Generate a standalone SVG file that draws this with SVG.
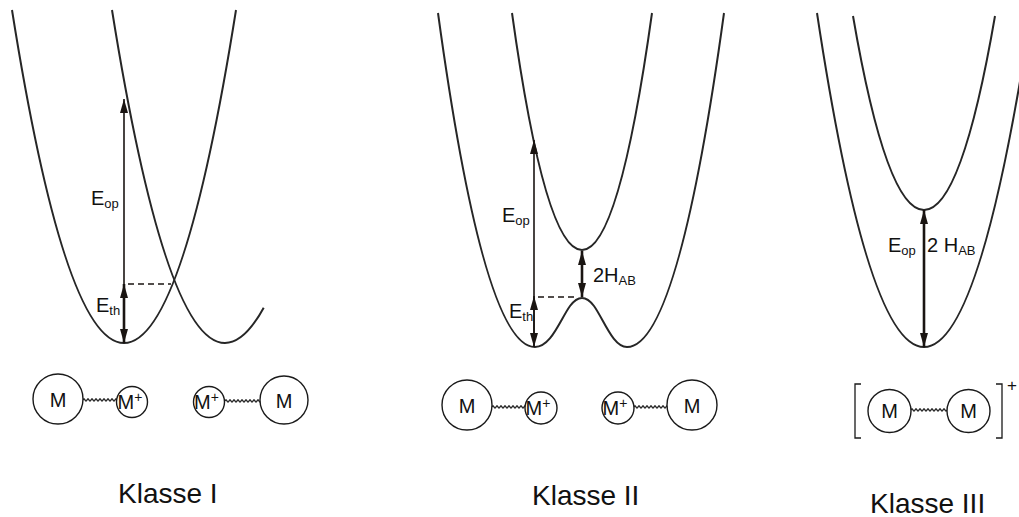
<svg xmlns="http://www.w3.org/2000/svg" width="1019" height="517" viewBox="0 0 1019 517">
<style>
.curve{fill:none;stroke:#262626;stroke-width:2}
.arr{fill:none;stroke:#1a1512;stroke-width:1.6}
.arrb{fill:none;stroke:#1a1512;stroke-width:2.6}
.dash{fill:none;stroke:#1a1512;stroke-width:1.6;stroke-dasharray:6 4}
.circ{fill:#fff;stroke:#1a1a1a;stroke-width:1.4}
.wave{fill:none;stroke:#1a1a1a;stroke-width:1.3}
.br{fill:none;stroke:#1a1a1a;stroke-width:1.3}
text{font-family:"Liberation Sans",Arial,sans-serif;fill:#111}
.lbl{font-size:20px}
.sub{font-size:13px}
.mol{font-size:20px}
.sup{font-size:14px}
.cls{font-size:28px}
</style>
<defs>
<marker id="ah" markerUnits="userSpaceOnUse" markerWidth="15" markerHeight="9" refX="14" refY="4" orient="auto-start-reverse" viewBox="0 0 15 9">
<path d="M0,0 L14,4 L0,8 z" fill="#1a1512"/>
</marker>
</defs>

<g id="panel-1-curves">
<path class="curve" d="M12,10 C42,199 79,343 124,343 C169,343 206,199 236,10"/>
<path class="curve" d="M112,10 C142.3,199.1 179.6,343 225,343 C238.6,343 251.5,330 263.7,307.7"/>
</g>
<g id="panel-2-curves">
<path class="curve" d="M438,13 C464,202.7 496,347 535,347 C551,347 560,320 570,306 Q582,290 594,306 C604,320 613,347 627,347 C666,347 698,202.7 724,13"/>
<path class="curve" d="M512,13 C530.8,147.6 553.9,250 582,250 C610.1,250 633.2,147.6 652,13"/>
</g>
<g id="panel-3-curves">
<path class="curve" d="M817,13 C845.7,202.7 881,347 924,347 C967,347 1002.3,202.7 1031,13"/>
<path class="curve" d="M853,16 C872,126.2 895.5,210 924,210 C952.5,210 976,126.2 995,16"/>
</g>

<g id="connectors">
<line class="arr" x1="124" y1="343" x2="124" y2="99" marker-end="url(#ah)"/>
<line class="arrb" x1="124" y1="284" x2="124" y2="343" marker-start="url(#ah)" marker-end="url(#ah)"/>
<line class="dash" x1="128" y1="284" x2="171" y2="284"/>
<line class="arr" x1="534" y1="347" x2="534" y2="140" marker-end="url(#ah)"/>
<line class="arr" x1="534" y1="296" x2="534" y2="347" marker-start="url(#ah)" marker-end="url(#ah)"/>
<line class="dash" x1="538" y1="297" x2="578" y2="297"/>
<line class="arrb" x1="582" y1="251" x2="582" y2="297" marker-start="url(#ah)" marker-end="url(#ah)"/>
<line class="arrb" x1="924" y1="210" x2="924" y2="347" marker-start="url(#ah)" marker-end="url(#ah)"/>
</g>

<g id="panel-1-labels">
<text class="lbl" x="91" y="205">E<tspan class="sub" dy="3">op</tspan></text>
<text class="lbl" x="96" y="312">E<tspan class="sub" dy="3">th</tspan></text>
</g>
<g id="panel-2-labels">
<text class="lbl" x="502" y="222">E<tspan class="sub" dy="3">op</tspan></text>
<text class="lbl" x="509" y="318">E<tspan class="sub" dy="3">th</tspan></text>
<text class="lbl" x="593" y="282">2H<tspan class="sub" dy="3">AB</tspan></text>
</g>
<g id="panel-3-labels">
<text class="lbl" x="888" y="252">E<tspan class="sub" dy="3">op</tspan></text>
<text class="lbl" x="927" y="252">2 H<tspan class="sub" dy="3">AB</tspan></text>
</g>

<g id="mol-1a">
<path class="wave" d="M83,400 q1,-2.2 2,0 q1,2.2 2,0 q1,-2.2 2,0 q1,2.2 2,0 q1,-2.2 2,0 q1,2.2 2,0 q1,-2.2 2,0 q1,2.2 2,0 q1,-2.2 2,0 q1,2.2 2,0 q1,-2.2 2,0 q1,2.2 2,0 q1,-2.2 2,0 q1,2.2 2,0 q1,-2.2 2,0 q1,2.2 2,0 q1,-2.2 2,0"/>
<circle class="circ" cx="58" cy="399" r="25"/>
<text class="mol" x="58" y="407" text-anchor="middle">M</text>
<circle class="circ" cx="132" cy="402" r="15.5"/>
<text class="mol" x="117.5" y="409">M<tspan class="sup" dy="-7">+</tspan></text>
</g>
<g id="mol-1b">
<path class="wave" d="M225,401 q1,-2.2 2,0 q1,2.2 2,0 q1,-2.2 2,0 q1,2.2 2,0 q1,-2.2 2,0 q1,2.2 2,0 q1,-2.2 2,0 q1,2.2 2,0 q1,-2.2 2,0 q1,2.2 2,0 q1,-2.2 2,0 q1,2.2 2,0 q1,-2.2 2,0 q1,2.2 2,0 q1,-2.2 2,0 q1,2.2 2,0 q1,-2.2 2,0 q1,2.2 2,0"/>
<circle class="circ" cx="209" cy="402" r="15.5"/>
<text class="mol" x="194" y="409">M<tspan class="sup" dy="-7">+</tspan></text>
<circle class="circ" cx="284" cy="400" r="24"/>
<text class="mol" x="284" y="408" text-anchor="middle">M</text>
</g>

<g id="mol-2a">
<path class="wave" d="M492,407 q1,-2.2 2,0 q1,2.2 2,0 q1,-2.2 2,0 q1,2.2 2,0 q1,-2.2 2,0 q1,2.2 2,0 q1,-2.2 2,0 q1,2.2 2,0 q1,-2.2 2,0 q1,2.2 2,0 q1,-2.2 2,0 q1,2.2 2,0 q1,-2.2 2,0 q1,2.2 2,0 q1,-2.2 2,0 q1,2.2 2,0 q1,-2.2 2,0"/>
<circle class="circ" cx="467" cy="405" r="25"/>
<text class="mol" x="467" y="413" text-anchor="middle">M</text>
<circle class="circ" cx="541" cy="408" r="16"/>
<text class="mol" x="525.5" y="415">M<tspan class="sup" dy="-7">+</tspan></text>
</g>
<g id="mol-2b">
<path class="wave" d="M634,407 q1,-2.2 2,0 q1,2.2 2,0 q1,-2.2 2,0 q1,2.2 2,0 q1,-2.2 2,0 q1,2.2 2,0 q1,-2.2 2,0 q1,2.2 2,0 q1,-2.2 2,0 q1,2.2 2,0 q1,-2.2 2,0 q1,2.2 2,0 q1,-2.2 2,0 q1,2.2 2,0 q1,-2.2 2,0 q1,2.2 2,0 q1,-2.2 2,0"/>
<circle class="circ" cx="618" cy="408" r="16"/>
<text class="mol" x="602.5" y="415">M<tspan class="sup" dy="-7">+</tspan></text>
<circle class="circ" cx="692" cy="405" r="25"/>
<text class="mol" x="692" y="413" text-anchor="middle">M</text>
</g>

<g id="mol-3">
<path class="br" d="M861,384 H855 V438 H861"/>
<path class="br" d="M996,384 H1002 V438 H996"/>
<path class="wave" d="M911,410 q1,-2.2 2,0 q1,2.2 2,0 q1,-2.2 2,0 q1,2.2 2,0 q1,-2.2 2,0 q1,2.2 2,0 q1,-2.2 2,0 q1,2.2 2,0 q1,-2.2 2,0 q1,2.2 2,0 q1,-2.2 2,0 q1,2.2 2,0 q1,-2.2 2,0 q1,2.2 2,0 q1,-2.2 2,0 q1,2.2 2,0 q1,-2.2 2,0 q1,2.2 2,0"/>
<circle class="circ" cx="889.5" cy="411" r="21.5"/>
<text class="mol" x="889.5" y="418" text-anchor="middle">M</text>
<circle class="circ" cx="968.5" cy="411" r="21.5"/>
<text class="mol" x="968.5" y="418" text-anchor="middle">M</text>
<text x="1012" y="391" font-size="17" text-anchor="middle">+</text>
</g>

<g id="class-labels">
<text class="cls" x="118" y="503">Klasse I</text>
<text class="cls" x="532" y="505">Klasse II</text>
<text class="cls" x="870" y="513">Klasse III</text>
</g>
</svg>
